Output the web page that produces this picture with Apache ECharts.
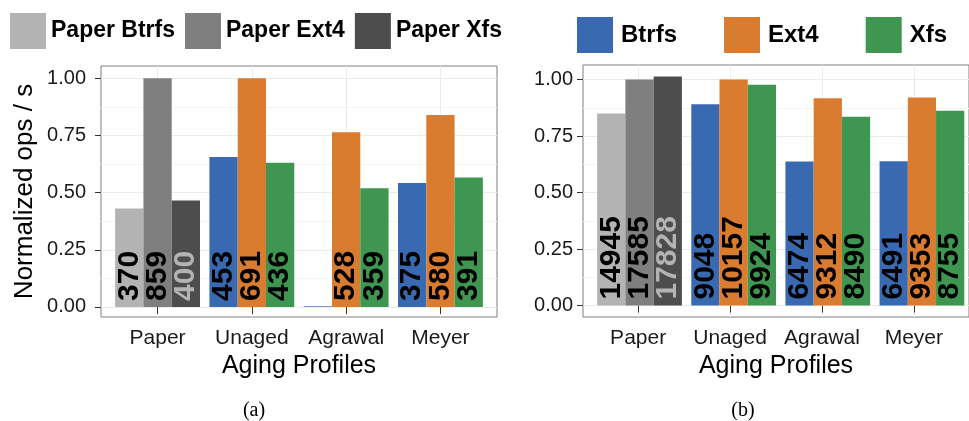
<!DOCTYPE html>
<html>
<head>
<meta charset="utf-8">
<script src="https://cdn.jsdelivr.net/npm/echarts@6/dist/echarts.min.js"></script>
<style>
  html, body { margin: 0; padding: 0; background: #ffffff; }
  #chart { width: 969px; height: 421px; }
</style>
</head>
<body>
<div id="chart"></div>
<script>
// Aging profiles on the x axis
const categories = ['Paper', 'Unaged', 'Agrawal', 'Meyer'];
const fsNames = ['Btrfs', 'Ext4', 'Xfs'];
const yTicks = [0, 0.25, 0.5, 0.75, 1];
const yMinorTicks = [0.125, 0.375, 0.625, 0.875];

// Each group is normalized by an Ext4 result: Paper by Paper Ext4, the rest by Unaged Ext4
const normBaseIndex = [0, 1, 1, 1];

// (a) throughput, ops/s
const opsA_btrfs = [370, 453, 2, 375];
const opsA_ext4 = [859, 691, 528, 580];
const opsA_xfs = [400, 436, 359, 391];
const labelsA_btrfs = ['370', '453', '', '375'];
const labelsA_ext4 = ['859', '691', '528', '580'];
const labelsA_xfs = ['400', '436', '359', '391'];

// (b) throughput, ops/s
const opsB_btrfs = [14945, 9048, 6474, 6491];
const opsB_ext4 = [17585, 10157, 9312, 9353];
const opsB_xfs = [17828, 9924, 8490, 8755];
const labelsB_btrfs = ['14945', '9048', '6474', '6491'];
const labelsB_ext4 = ['17585', '10157', '9312', '9353'];
const labelsB_xfs = ['17828', '9924', '8490', '8755'];

const FONT = '"Liberation Sans", Arial, Helvetica, sans-serif';
const fsColors = ['#396AB1', '#DA7C30', '#3E9651'];
const paperColors = ['#B3B3B3', '#7F7F7F', '#4D4D4D'];
const paperLabelColors = ['#000000', '#000000', '#B3B3B3'];

// panel frames (ggplot-style: 0.6 category expansion on each side of the discrete axis)
const panels = [
  { key: 'a', left: 101, top: 66, width: 396, height: 251, yMin: -0.044, yMax: 1.054,
    yLabelMargin: 15, yName: 'Normalized ops / s',
    ops: [opsA_btrfs, opsA_ext4, opsA_xfs], labels: [labelsA_btrfs, labelsA_ext4, labelsA_xfs] },
  { key: 'b', left: 583, top: 65, width: 396.6, height: 252, yMin: -0.0507, yMax: 1.0645,
    yLabelMargin: 10, yName: '',
    ops: [opsB_btrfs, opsB_ext4, opsB_xfs], labels: [labelsB_btrfs, labelsB_ext4, labelsB_xfs] }
];

const grid = [], xAxis = [], yAxis = [], series = [];
const catPositions = categories.map((c, i) => i + 1);

panels.forEach(function (p) {
  const band = p.width / (categories.length + 0.2);
  const frameGrid = grid.length;
  grid.push({ left: p.left, top: p.top, width: p.width, height: p.height,
    show: true, backgroundColor: '#ffffff', borderColor: '#7F7F7F', borderWidth: 1, containLabel: false });
  const barGrid = grid.length;
  grid.push({ left: p.left + band * 0.1, top: p.top, width: band * categories.length, height: p.height, containLabel: false });

  // frame x axis: continuous 0.4..4.6 so the categories sit at 1..4
  xAxis.push({
    gridIndex: frameGrid, type: 'value', min: 0.4, max: categories.length + 0.6,
    axisLine: { show: false },
    axisTick: { show: true, customValues: catPositions, length: 7, lineStyle: { color: '#333333', width: 1 } },
    axisLabel: { show: true, customValues: catPositions, margin: 11,
      formatter: function (v) { return categories[Math.round(v) - 1]; },
      fontFamily: FONT, fontSize: 21, color: '#1a1a1a' },
    splitLine: { show: true, lineStyle: { color: '#EBEBEB', width: 1 } },
    name: 'Aging Profiles', nameLocation: 'middle', nameGap: 37,
    nameTextStyle: { fontFamily: FONT, fontSize: 25, color: '#000000' }
  });
  const barX = xAxis.length;
  xAxis.push({ gridIndex: barGrid, type: 'category', data: categories, show: false });

  // minor horizontal grid lines
  yAxis.push({
    gridIndex: frameGrid, type: 'value', min: p.yMin, max: p.yMax, position: 'left',
    axisLine: { show: false },
    axisTick: { show: false, customValues: yMinorTicks },
    axisLabel: { show: false, customValues: yMinorTicks },
    splitLine: { show: true, lineStyle: { color: '#F4F4F4', width: 1 } }
  });
  // major horizontal grid lines, ticks, labels
  yAxis.push({
    gridIndex: frameGrid, type: 'value', min: p.yMin, max: p.yMax, position: 'left',
    axisLine: { show: false },
    axisTick: { show: true, customValues: yTicks, length: 6, lineStyle: { color: '#333333', width: 1 } },
    axisLabel: { show: true, customValues: yTicks, margin: p.yLabelMargin,
      formatter: function (v) { return v.toFixed(2); },
      fontFamily: FONT, fontSize: 20, color: '#1a1a1a' },
    splitLine: { show: true, lineStyle: { color: '#EBEBEB', width: 1 } },
    name: p.yName, nameLocation: 'middle', nameGap: 63, nameRotate: 90,
    nameTextStyle: { fontFamily: FONT, fontSize: 26, color: '#000000' }
  });
  const barY = yAxis.length;
  yAxis.push({ gridIndex: barGrid, type: 'value', min: p.yMin, max: p.yMax, show: false });

  const ext4 = p.ops[1];
  fsNames.forEach(function (fs, k) {
    const ops = p.ops[k];
    const labels = p.labels[k];
    const norm = ops.map(function (v, i) { return v / ext4[normBaseIndex[i]]; });
    const labelCfg = function (color) {
      return {
        show: true, position: 'insideBottom', rotate: 90, align: 'left', verticalAlign: 'middle',
        distance: 6, fontFamily: FONT, fontSize: 30, fontWeight: 'bold', color: color,
        formatter: function (prm) { return prm.data && prm.data.txt ? prm.data.txt : ''; }
      };
    };
    // published ("Paper") results in grey
    series.push({
      name: 'Paper ' + fs, type: 'bar', stack: p.key + fs,
      xAxisIndex: barX, yAxisIndex: barY, barGap: '0%', barCategoryGap: '10%',
      itemStyle: { color: paperColors[k] },
      label: labelCfg(paperLabelColors[k]),
      data: norm.map(function (v, i) { return i === 0 ? { value: v, txt: labels[i] } : '-'; })
    });
    // re-run results
    series.push({
      name: fs, type: 'bar', stack: p.key + fs,
      xAxisIndex: barX, yAxisIndex: barY, barGap: '0%', barCategoryGap: '10%',
      itemStyle: { color: fsColors[k] },
      label: labelCfg('#000000'),
      data: norm.map(function (v, i) { return i > 0 ? { value: v, txt: labels[i] } : '-'; })
    });
  });
});

const legendText = { fontFamily: FONT, fontWeight: 'bold', color: '#000000' };

const option = {
  animation: false,
  backgroundColor: '#ffffff',
  grid: grid,
  xAxis: xAxis,
  yAxis: yAxis,
  series: series,
  legend: [
    { data: ['Paper Btrfs', 'Paper Ext4', 'Paper Xfs'], left: 10, top: 13, padding: 0, orient: 'horizontal',
      icon: 'rect', itemWidth: 36, itemHeight: 36, itemGap: 10, selectedMode: false,
      textStyle: Object.assign({ fontSize: 23 }, legendText) },
    { data: ['Btrfs', 'Ext4', 'Xfs'], left: 577, top: 17, padding: 0, orient: 'horizontal',
      icon: 'rect', itemWidth: 36, itemHeight: 36, itemGap: 47, selectedMode: false,
      textStyle: Object.assign({ fontSize: 24, padding: [0, 0, 0, 3] }, legendText) }
  ],
  graphic: [
    { type: 'text', x: 254, y: 411, style: { text: '(a)', align: 'center', verticalAlign: 'middle',
      font: '20px "Liberation Serif", "Times New Roman", serif', fill: '#000000' } },
    { type: 'text', x: 743, y: 411, style: { text: '(b)', align: 'center', verticalAlign: 'middle',
      font: '20px "Liberation Serif", "Times New Roman", serif', fill: '#000000' } }
  ]
};

const chart = echarts.init(document.getElementById('chart'), null, { renderer: 'canvas' });
chart.setOption(option);
</script>
</body>
</html>
